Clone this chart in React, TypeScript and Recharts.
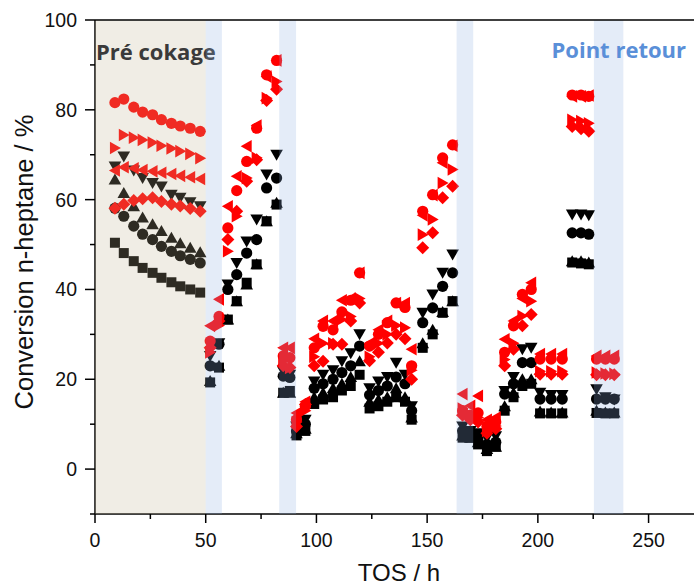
import React from 'react'
import {
  ScatterChart,
  Scatter,
  XAxis,
  YAxis,
  ReferenceArea,
  ReferenceLine,
} from 'recharts'

// time on stream (h), shared by all eight series
const TOS = [
  9, 13, 17.5, 21.5, 26, 30, 34.5, 38.5, 43, 47.5,
  52, 56, 60, 64, 68.5, 73, 77.5, 82,
  85, 88,
  91, 95, 99, 103, 107.5, 111.5, 115.5, 119.5,
  124, 128, 132, 136, 140,
  143,
  148, 152.5, 157, 161.5,
  166, 169.5,
  173, 177, 181, 185, 189, 193, 197,
  201, 206, 211,
  215.5, 219.5, 223,
  226.5, 230.5, 234.5,
]

const redCircle = [
  81.6, 82.4, 80.6, 79.5, 78.9, 77.8, 77.0, 76.4, 75.9, 75.2,
  28.5, 34, 53.7, 62, 68.5, 75.9, 87.8, 91,
  25.2, 24.8,
  11, 14, 27, 31.8, 31, 35, 37.6, 43.7,
  27.4, 30, 32.6, 37, 36,
  23,
  57.4, 61.1, 69.3, 72.2,
  13, 12,
  12.5, 9.5, 10.5, 26, 31.9, 38.9, 40,
  24.5, 24.5, 24.5,
  83.3, 83.3, 83,
  24.5, 24.5, 24.5,
]
const redLeft = [
  66.5, 67.2, 67.0, 66.6, 66.3, 66.0, 65.7, 65.3, 65.0, 64.6,
  31.9, 37.8, 58.5, 65.2, 71.9, 76.5, 87.4, 91,
  27, 27,
  12.5, 15, 29, 33, 33, 37.6, 38, 43.7,
  28, 31, 33, 37, 37,
  26.7,
  56.5, 61, 68.2, 72,
  16.7, 14.1,
  16.3, 11, 11.5, 28.9, 33, 38, 41.5,
  25.6, 25.6, 25.6,
  83, 83, 83.2,
  25.2, 25.2, 25.2,
]
const redRight = [
  71.5, 74.4, 73.8, 73.3, 72.7, 72.0, 71.4, 70.8, 70.2, 69.2,
  26, 32, 48.5, 56.3, 64.8, 69.3, 82.6, 86.3,
  24, 22.5,
  10.5, 13, 25, 28, 28, 33.3, 34, 38,
  25, 28, 30, 32, 31.5,
  22,
  52.2, 55.6, 63.7, 66.7,
  13.5, 12,
  11.5, 8.5, 9.6, 24.4, 28, 34.1, 37.4,
  21.8, 21.8, 21.8,
  77.8, 77.5, 77,
  21.5, 21.3, 21.2,
]
const redDiamond = [
  58.1, 59.0, 59.8, 60.2, 60.4, 59.6, 59.0, 58.6, 58.0, 57.4,
  27, 33, 51.1, 57.4, 64.1, 68.9, 82.1, 84.6,
  23, 22.6,
  9.5, 14.4, 23, 24, 27.8, 27.8, 33, 37,
  24.1, 26, 28.1, 30, 29,
  20,
  49.3, 52.6, 60.4, 63,
  12, 11,
  10.5, 8, 9, 23, 26.7, 31.9, 34.4,
  21.1, 21.1, 21.1,
  76.3, 75.8, 75.2,
  21, 21, 21,
]
const blackDown = [
  67.4, 69.6, 66.5, 64.8, 63.7, 62.9, 61.1, 60.4, 59.4, 58.5,
  25.2, 28, 41.1, 45.9, 50.7, 55.6, 65.6, 70,
  21.8, 21,
  9.5, 11, 19.5, 21, 22, 24, 25.8, 30,
  18, 19.5, 20.5, 23.7, 21,
  14,
  34.8, 38.9, 43.7, 47.8,
  9.5, 8.5,
  8, 7, 7.3, 17.4, 20.5, 26.7, 27,
  17, 16.5, 16.5,
  56.7, 56.7, 56.5,
  17.8, 16, 15.5,
]
const blackCircle = [
  58.1, 56.3, 54.1, 52.3, 51.1, 49.6, 48.5, 47.5, 46.7, 45.9,
  23, 27.8, 40, 43.3, 48.1, 51.1, 62.6, 64.8,
  20.7, 20.4,
  8.5, 10, 18, 19, 20, 21.5, 23, 27.4,
  16.5, 17.5, 18.5, 20.5, 19,
  13,
  32.6, 35.9, 40.7, 43.7,
  8.5, 8,
  7, 5.5, 6, 16.7, 19, 23.7, 23.7,
  15.6, 15.6, 15.6,
  52.6, 52.6, 52.3,
  15.6, 15.6, 15.6,
]
const blackUp = [
  64.5, 61.5, 58.5, 56.0, 54.5, 53.0, 51.5, 50.3, 49.3, 48.3,
  19.6, 23, 33.3, 37.4, 41.1, 45.6, 55.2, 59.3,
  17, 17,
  8, 9, 16, 17, 18, 19, 20.5, 24,
  15, 15.5, 16, 18, 16,
  11.5,
  28, 31, 35, 37.4,
  7.5, 7,
  6, 4.5, 5, 14, 17, 20, 20,
  12.8, 12.6, 12.6,
  46.3, 46.3, 46,
  13, 12.6, 12.6,
]
const blackSquare = [
  50.4, 48.1, 46.3, 44.8, 43.7, 42.6, 41.6, 40.7, 40.0, 39.3,
  19.3, 22.6, 33.3, 37.4, 41.5, 45.6, 55.2, 58.9,
  17, 17.4,
  7.5, 8.5, 14.5, 15.5, 16, 17.5, 18.5, 21,
  13.5, 14, 15, 16, 15,
  11,
  27, 30, 34.8, 37.4,
  7, 7,
  5.5, 4, 5, 13, 16, 18.5, 19,
  12.4, 12.4, 12.4,
  46, 45.8, 45.6,
  12.5, 12.4, 12.4,
]

// shaded periods: [start, end] in h
const PRE_COKING: [number, number] = [0, 50]
const RETURN_POINTS: [number, number][] = [
  [50, 57.3],
  [83.2, 90.8],
  [163.3, 170.8],
  [225.3, 238.6],
]

const X_TICKS = [0, 25, 50, 75, 100, 125, 150, 175, 200, 225, 250, 275]
const Y_TICKS = [-10, 0, 10, 20, 30, 40, 50, 60, 70, 80, 90, 100]

const RED = '#ff0000'
const BLACK = '#000000'
const AXIS_FONT = '"Liberation Sans", Arial, sans-serif'
const NOTE_FONT = '"Open Sans", "Noto Sans", sans-serif'

type Kind = 'circle' | 'left' | 'right' | 'down' | 'up' | 'square' | 'diamond'

// black first so red sits on top, as in the original
const SERIES: { name: string; values: number[]; kind: Kind; color: string }[] = [
  { name: 'squares', values: blackSquare, kind: 'square', color: BLACK },
  { name: 'up', values: blackUp, kind: 'up', color: BLACK },
  { name: 'circles', values: blackCircle, kind: 'circle', color: BLACK },
  { name: 'down', values: blackDown, kind: 'down', color: BLACK },
  { name: 'diamonds', values: redDiamond, kind: 'diamond', color: RED },
  { name: 'left', values: redLeft, kind: 'left', color: RED },
  { name: 'right', values: redRight, kind: 'right', color: RED },
  { name: 'red circles', values: redCircle, kind: 'circle', color: RED },
]

const toPoints = (values: number[]) => TOS.map((x, i) => ({ x, y: values[i] }))

function Marker({ cx, cy, kind, color }: { cx: number; cy: number; kind: Kind; color: string }) {
  if (cx == null || cy == null) return null
  switch (kind) {
    case 'circle':
      return <circle cx={cx} cy={cy} r={5.6} fill={color} />
    case 'square':
      return <rect x={cx - 5} y={cy - 5} width={10} height={10} fill={color} />
    case 'diamond':
      return <polygon points={`${cx},${cy - 6.5} ${cx + 6.5},${cy} ${cx},${cy + 6.5} ${cx - 6.5},${cy}`} fill={color} />
    case 'down':
      return <polygon points={`${cx - 6.3},${cy - 5} ${cx + 6.3},${cy - 5} ${cx},${cy + 6}`} fill={color} />
    case 'up':
      return <polygon points={`${cx - 6.3},${cy + 5} ${cx + 6.3},${cy + 5} ${cx},${cy - 6}`} fill={color} />
    case 'left':
      return <polygon points={`${cx + 5},${cy - 6.3} ${cx + 5},${cy + 6.3} ${cx - 6},${cy}`} fill={color} />
    case 'right':
      return <polygon points={`${cx - 5},${cy - 6.3} ${cx - 5},${cy + 6.3} ${cx + 6},${cy}`} fill={color} />
  }
  return null
}

function YTick(props: any) {
  const { x, y, payload } = props
  const v = payload.value
  const major = v % 20 === 0
  return (
    <g>
      <line x1={x - (major ? 10 : 5)} x2={x} y1={y} y2={y} stroke="#000" strokeWidth={1.5} />
      {major && (
        <text x={x - 18} y={y} dy="0.36em" textAnchor="end" fontSize={19.5} fontFamily={AXIS_FONT} fill="#111">
          {v}
        </text>
      )}
    </g>
  )
}

function XTick(props: any) {
  const { x, y, payload } = props
  const v = payload.value
  const major = v % 50 === 0
  return (
    <g>
      <line x1={x} x2={x} y1={y} y2={y + (major ? 9 : 5)} stroke="#000" strokeWidth={1.5} />
      {major && (
        <text x={x} y={y + 33} textAnchor="middle" fontSize={19.5} fontFamily={AXIS_FONT} fill="#111">
          {v}
        </text>
      )}
    </g>
  )
}

const XTitle = () => (
  <text x={399} y={581} textAnchor="middle" fontSize={24} fontFamily={AXIS_FONT} fill="#111">
    TOS / h
  </text>
)

const YTitle = () => (
  <text
    x={33}
    y={262}
    transform="rotate(-90 33 262)"
    textAnchor="middle"
    fontSize={25.5}
    fontFamily={AXIS_FONT}
    fill="#111"
  >
    Conversion n-heptane / %
  </text>
)

const PreLabel = () => (
  <text x={96} y={60} fontSize={22} fontWeight={700} fontFamily={NOTE_FONT} fill="#3a3a3a">
    Pré cokage
  </text>
)

const ReturnLabel = () => (
  <text x={686} y={58} textAnchor="end" fontSize={22} fontWeight={700} fontFamily={NOTE_FONT} fill="#5a8fd8">
    Point retour
  </text>
)

export default function App() {
  return (
    <div
      style={{
        position: 'absolute',
        left: 0,
        top: 0,
        width: 694,
        height: 588,
        overflow: 'hidden',
        background: '#fff',
      }}
    >
      <ScatterChart width={715} height={588} margin={{ top: 20, right: 0, bottom: 0, left: 0 }}>
        <XAxis
          type="number"
          dataKey="x"
          domain={[0, 280]}
          ticks={X_TICKS}
          interval={0}
          allowDataOverflow
          height={74}
          tickSize={0}
          tickMargin={0}
          tickLine={false}
          tick={<XTick />}
          axisLine={{ stroke: '#000', strokeWidth: 1.5 }}
          label={<XTitle />}
        />
        <YAxis
          type="number"
          dataKey="y"
          domain={[-10, 100]}
          ticks={Y_TICKS}
          interval={0}
          allowDataOverflow
          width={95}
          tickSize={0}
          tickMargin={0}
          tickLine={false}
          tick={<YTick />}
          axisLine={{ stroke: '#000', strokeWidth: 1.5 }}
          label={<YTitle />}
        />
        {SERIES.map((s) => (
          <Scatter
            key={s.name}
            name={s.name}
            data={toPoints(s.values)}
            isAnimationActive={false}
            shape={(p: any) => <Marker cx={p.cx} cy={p.cy} kind={s.kind} color={s.color} />}
          />
        ))}
        <ReferenceArea
          x1={PRE_COKING[0]}
          x2={PRE_COKING[1]}
          y1={-10}
          y2={100}
          fill="#c0b492"
          fillOpacity={0.24}
          stroke="none"
          zIndex={700}
          label={<PreLabel />}
        />
        {RETURN_POINTS.map(([a, b], i) => (
          <ReferenceArea
            key={a}
            x1={a}
            x2={b}
            y1={-10}
            y2={100}
            fill="#8eaee0"
            fillOpacity={0.24}
            stroke="none"
            zIndex={700}
            label={i === RETURN_POINTS.length - 1 ? <ReturnLabel /> : undefined}
          />
        ))}
        <ReferenceLine y={100} stroke="#000" strokeWidth={1.5} zIndex={800} />
      </ScatterChart>
    </div>
  )
}
